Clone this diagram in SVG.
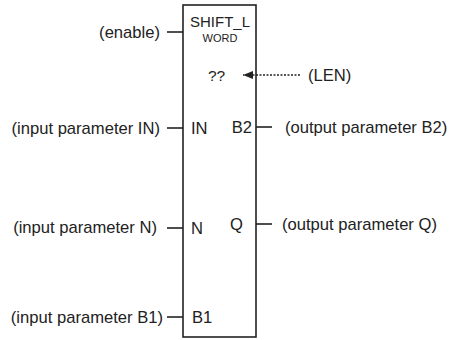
<svg xmlns="http://www.w3.org/2000/svg" width="450" height="340" viewBox="0 0 450 340">
<defs>
<style>
text{font-family:"Liberation Sans",Arial,sans-serif;fill:#222;font-size:16.6px}
.ln{stroke:#222;stroke-width:1.6;fill:none}
.small{font-size:11px}
.title{font-size:15px}
</style>
<marker id="ah" markerWidth="10" markerHeight="8" refX="10" refY="4" orient="auto" markerUnits="userSpaceOnUse">
<path d="M0,0 L10,4 L0,8 Z" fill="#222"/>
</marker>
</defs>
<rect width="450" height="340" fill="#fff"/>
<g id="block">
<rect x="183" y="5" width="73" height="332" class="ln"/>
<text x="220" y="27" text-anchor="middle" class="title">SHIFT_L</text>
<text x="220" y="42" text-anchor="middle" class="small">WORD</text>
<text x="208" y="81" style="font-size:15.5px">??</text>
<text x="191" y="134">IN</text>
<text x="252" y="133" text-anchor="end">B2</text>
<text x="191" y="234">N</text>
<text x="243" y="230" text-anchor="end">Q</text>
<text x="192" y="323">B1</text>
</g>
<g id="labels">
<text x="160" y="38" text-anchor="end">(enable)</text>
<text x="160" y="134" text-anchor="end">(input parameter IN)</text>
<text x="157" y="233" text-anchor="end">(input parameter N)</text>
<text x="163" y="323" text-anchor="end">(input parameter B1)</text>
<text x="308" y="81">(LEN)</text>
<text x="285" y="133">(output parameter B2)</text>
<text x="282" y="230">(output parameter Q)</text>
</g>
<g id="connectors">
<line x1="167" y1="32" x2="183" y2="32" class="ln"/>
<line x1="167" y1="128" x2="183" y2="128" class="ln"/>
<line x1="167" y1="228" x2="183" y2="228" class="ln"/>
<line x1="167" y1="317" x2="183" y2="317" class="ln"/>
<line x1="256" y1="127" x2="272" y2="127" class="ln"/>
<line x1="256" y1="224" x2="272" y2="224" class="ln"/>
<line x1="300" y1="75" x2="243" y2="75" stroke="#222" stroke-width="1.3" stroke-dasharray="2,1.5" marker-end="url(#ah)"/>
</g>
</svg>
